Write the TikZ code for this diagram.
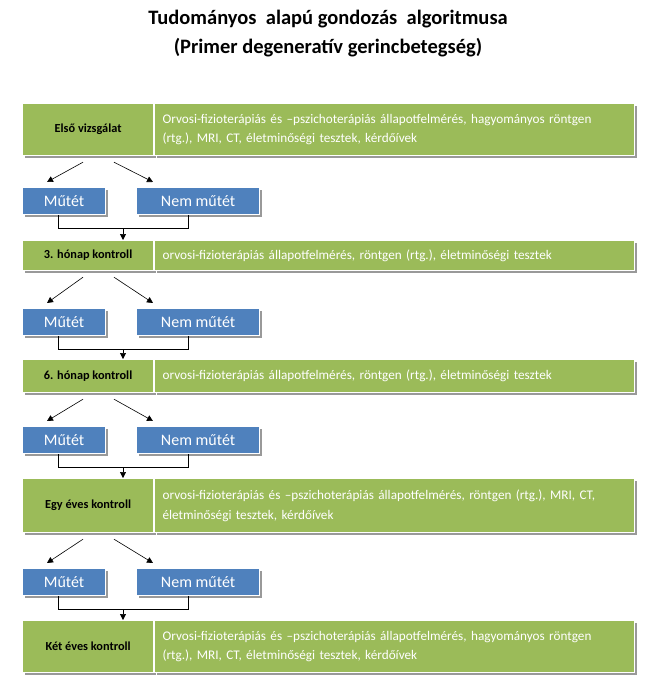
\documentclass[tikz,border=0pt]{standalone}
\usepackage{fontspec}
\setmainfont{Carlito}
\usetikzlibrary{shadows,arrows.meta,calc}
\definecolor{ogreen}{HTML}{9BBB59}
\definecolor{oblue}{HTML}{4F81BD}
\begin{document}
\begin{tikzpicture}[x=1pt,y=-1pt,
 box/.style={draw=white, line width=1.2pt, drop shadow={shadow xshift=2.5pt, shadow yshift=-2.5pt, fill=black!40, opacity=1}, anchor=north west, inner sep=0pt},
 lbox/.style={box, fill=ogreen, font=\fontsize{12.3}{14}\selectfont\bfseries, text=black, minimum width=131pt},
 rbox/.style={box, fill=ogreen, text=white, font=\fontsize{13.2}{19.5}\selectfont, minimum width=480pt, text width=464pt, align=left, inner xsep=8pt},
 bbox/.style={box, fill=oblue, text=white, font=\fontsize{16}{18}\selectfont, minimum height=27pt},
 titlestyle/.style={font=\fontsize{20.5}{24}\selectfont\bfseries, text=black},
 arr/.style={-{Triangle[length=6pt,width=6pt]}, line width=0.6pt},
 conn/.style={line width=0.6pt}]
\useasboundingbox (0,0) rectangle (659,688);

\node[titlestyle] (t1) at (328,19) {Tudományos\ \ alapú gondozás\ \ algoritmusa};
\node[titlestyle] (t2) at (328,48) {(Primer degeneratív gerincbetegség)};

% rows
\node[lbox, minimum height=52pt] (l1) at (22,103) {Első vizsgálat};
\node[rbox, minimum height=52pt] (r1) at (154,103) {Orvosi-fizioterápiás és –pszichoterápiás állapotfelmérés, hagyományos\ röntgen\\(rtg.), MRI,\ CT, életminőségi tesztek, kérdőívek};

\node[lbox, minimum height=30pt] (l2) at (22,240) {3. hónap kontroll};
\node[rbox, minimum height=30pt] (r2) at (154,240) {orvosi-fizioterápiás állapotfelmérés, röntgen (rtg.), életminőségi tesztek};

\node[lbox, minimum height=33pt] (l3) at (22,359) {6. hónap kontroll};
\node[rbox, minimum height=33pt] (r3) at (154,359) {orvosi-fizioterápiás állapotfelmérés, röntgen (rtg.), életminőségi tesztek};

\node[lbox, minimum height=54pt] (l4) at (22,478) {Egy éves kontroll};
\node[rbox, minimum height=54pt] (r4) at (154,478) {orvosi-fizioterápiás és –pszichoterápiás állapotfelmérés, röntgen (rtg.), MRI, CT,\\életminőségi tesztek, kérdőívek};

\node[lbox, minimum height=52pt] (l5) at (22,620) {Két éves kontroll};
\node[rbox, minimum height=52pt] (r5) at (154,620) {Orvosi-fizioterápiás és –pszichoterápiás állapotfelmérés, hagyományos\ röntgen\\(rtg.), MRI,\ CT, életminőségi tesztek, kérdőívek};

% blue boxes
\node[bbox, minimum width=83pt] (m1) at (22,187) {Műtét};
\node[bbox, minimum width=123pt] (n1) at (136,187) {Nem műtét};
\node[bbox, minimum width=83pt] (m2) at (22,308) {Műtét};
\node[bbox, minimum width=123pt] (n2) at (136,308) {Nem műtét};
\node[bbox, minimum width=83pt] (m3) at (22,426) {Műtét};
\node[bbox, minimum width=123pt] (n3) at (136,426) {Nem műtét};
\node[bbox, minimum width=83pt] (m4) at (22,568) {Műtét};
\node[bbox, minimum width=123pt] (n4) at (136,568) {Nem műtét};

% connectors
\foreach \i/\j in {1/2,2/3,3/4,4/5}{
  \draw[arr] ($(l\i.south west)+(61,6)$) -- ($(m\i.north west)+(25,-5)$);
  \draw[arr] ($(l\i.south west)+(92,6)$) -- ($(n\i.north west)+(17,-5)$);
  \draw[conn] ($(m\i.south west)+(36,0)$) -- ++(0,13) -| ($(n\i.south west)+(52,0)$);
  \draw[arr] ($(m\i.south west)+(101,13)$) -- ($(l\j.north west)+(101,0)$);
}
\end{tikzpicture}
\end{document}
